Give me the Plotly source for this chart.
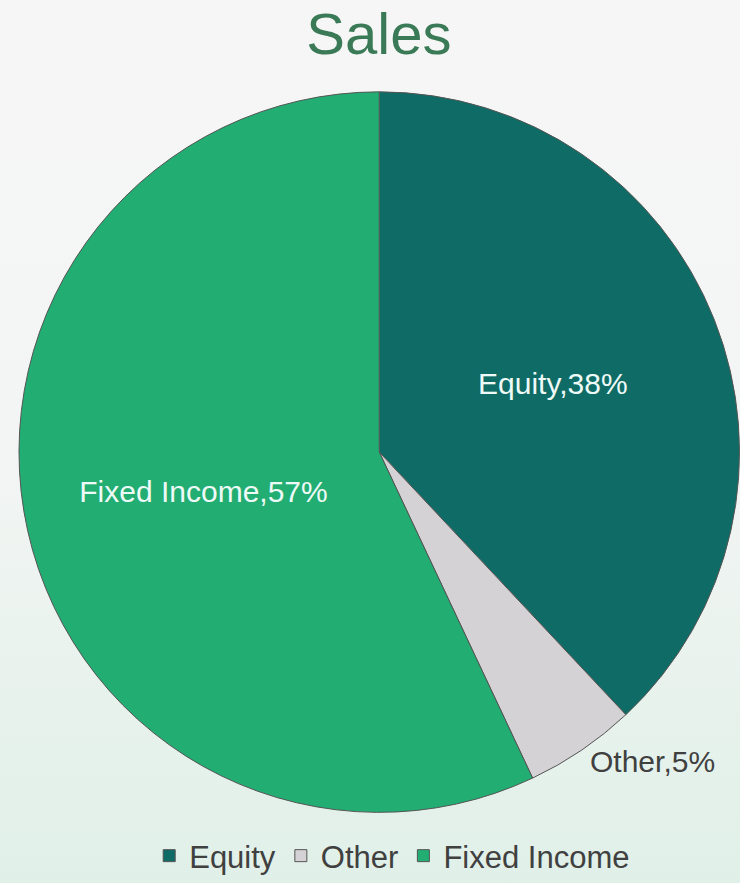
import plotly.graph_objects as go

categories = ["Equity", "Other", "Fixed Income"]
shares = [38, 5, 57]
colors = ["#0f6b65", "#d4d2d4", "#22ad72"]

bg_svg = (
    "data:image/svg+xml;utf8,"
    "<svg xmlns='http://www.w3.org/2000/svg' width='740' height='883'>"
    "<defs><linearGradient id='g' x1='0' y1='0' x2='0' y2='1'>"
    "<stop offset='0' stop-color='%23f6f6f6'/>"
    "<stop offset='0.5' stop-color='%23f3f5f4'/>"
    "<stop offset='1' stop-color='%23e0f0e8'/>"
    "</linearGradient></defs>"
    "<rect width='740' height='883' fill='url(%23g)'/></svg>"
)

FONT = "Liberation Sans, Arial, sans-serif"

fig = go.Figure(
    go.Pie(
        labels=categories,
        values=shares,
        sort=False,
        direction="clockwise",
        rotation=0,
        marker=dict(colors=colors, line=dict(color="#555555", width=1)),
        texttemplate="%{label},%{percent:.0%}",
        textposition=["inside", "outside", "inside"],
        insidetextorientation="horizontal",
        insidetextfont=dict(color="#eefaf7", size=30, family=FONT),
        outsidetextfont=dict(color="#404040", size=30, family=FONT),
        domain=dict(x=[0.025, 1.0], y=[0.080, 0.896]),
        hoverinfo="label+percent",
    )
)

fig.update_layout(
    width=740,
    height=883,
    margin=dict(l=0, r=0, t=0, b=0, autoexpand=False),
    paper_bgcolor="#f4f6f5",
    title=dict(
        text="Sales",
        x=0.512,
        xanchor="center",
        y=0.962,
        yanchor="middle",
        font=dict(size=58, color="#3a7a56", family=FONT),
    ),
    showlegend=True,
    legend=dict(
        orientation="h",
        x=0.53,
        xanchor="center",
        y=0.0,
        yanchor="bottom",
        bgcolor="rgba(0,0,0,0)",
        font=dict(size=31, color="#404040", family=FONT),
        itemwidth=30,
        tracegroupgap=0,
    ),
    images=[
        dict(
            source=bg_svg,
            xref="paper",
            yref="paper",
            x=0,
            y=1,
            sizex=1,
            sizey=1,
            sizing="stretch",
            layer="below",
        )
    ],
)

fig.write_html(
    "out.html",
    config={"displayModeBar": False},
    post_script="document.body.style.margin='0';document.body.style.overflow='hidden';",
)
